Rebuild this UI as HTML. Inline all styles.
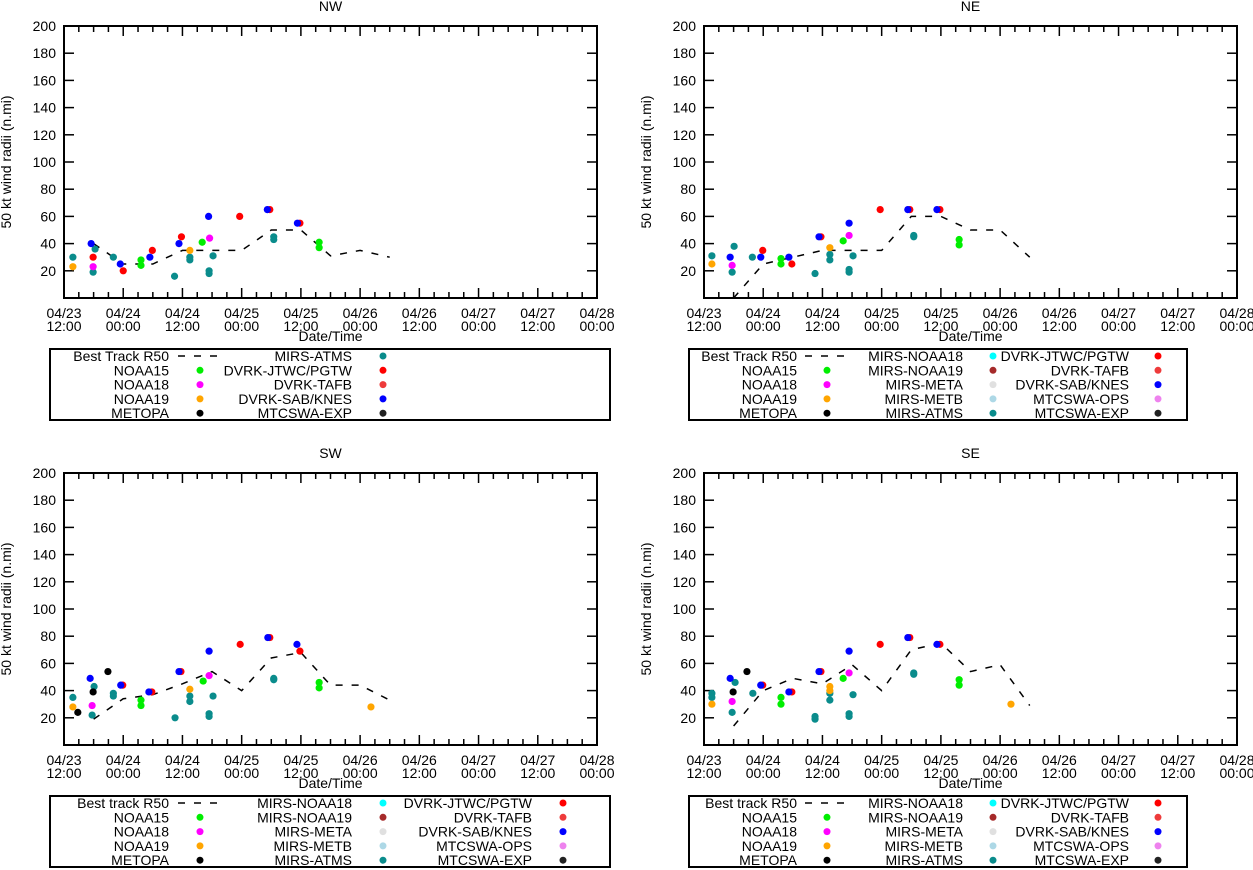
<!DOCTYPE html>
<html><head><meta charset="utf-8"><style>
body{margin:0;background:#fff;}
svg{display:block;font-family:"Liberation Sans",Arial,sans-serif;}
text{font-size:14px;fill:#000;}
</style></head><body>
<svg id="chart" width="1253" height="870" viewBox="0 0 1253 870"></svg>
<script>
// ---- data (hours since 04/23 12:00, kt radius in n.mi) ----
const bestTimes = [6,12,18,24,30,36,42,48,54,60,66];
const bestNW = [40,25,25,35,35,35,50,50,31,35,30];
const bestNE = [0,25,30,35,35,35,60,60,50,50,30];
const bestSW = [19,34,37,45,54,40,64,68,44,44,33];
const bestSE = [14,40,49,45,59,40,70,75,54,59,29];
const yTicks = [20,40,60,80,100,120,140,160,180,200];
const xTickHours = [0,12,24,36,48,60,72,84,96,108];
const xTickDates = ["04/23","04/24","04/24","04/25","04/25","04/26","04/26","04/27","04/27","04/28"];
const xTickTimes = ["12:00","00:00","12:00","00:00","12:00","00:00","12:00","00:00","12:00","00:00"];

const NW_ATMS=[[1.8,30],[5.9,19],[6.3,36],[10,30],[22.4,16],[25.5,28],[25.5,30],[29.4,18],[29.4,20],[30.2,31],[42.5,43],[42.5,45]];
const NW_N19=[[1.8,23],[25.5,35]];
const NW_N18=[[5.9,23],[29.5,44]];
const NW_N15=[[15.6,28],[15.6,24],[28,41],[51.7,41],[51.7,37]];
const NW_JTWC=[[5.9,30],[12,20],[17.9,35],[23.8,45],[35.6,60],[41.7,65],[47.8,55]];
const NW_SAB=[[5.5,40],[11.4,25],[17.4,30],[23.3,40],[29.3,60],[41.2,65],[47.3,55]];

const NE_ATMS=[[1.6,31],[5.7,19],[6.1,38],[9.8,30],[22.5,18],[25.5,32],[25.5,28],[29.4,21],[29.4,19],[30.2,31],[42.5,46],[42.5,45]];
const NE_N19=[[1.6,25],[25.5,37]];
const NE_N18=[[5.7,24],[29.4,46]];
const NE_N15=[[15.6,29],[15.6,25],[28.2,42],[51.7,43],[51.7,39]];
const NE_JTWC=[[11.9,35],[17.8,25],[23.7,45],[35.7,65],[41.7,65],[47.8,65]];
const NE_SAB=[[5.3,30],[11.5,30],[17.2,30],[23.3,45],[29.4,55],[41.3,65],[47.2,65]];

const SW_ATMS=[[1.8,35],[6.1,43],[5.7,22],[10,38],[10,36],[22.5,20],[25.5,36],[25.5,32],[29.4,23],[29.4,21],[30.2,36],[42.5,49],[42.5,48]];
const SW_N19=[[1.8,28],[25.5,41],[62.2,28]];
const SW_MET=[[2.8,24],[5.9,39],[8.9,54]];
const SW_N18=[[5.7,29],[29.4,51]];
const SW_N15=[[15.6,33],[15.6,29],[28.2,47],[51.7,46],[51.7,42]];
const SW_JTWC=[[11.9,44],[17.8,39],[23.7,54],[35.7,74],[41.7,79],[47.8,69]];
const SW_SAB=[[5.3,49],[11.5,44],[17.2,39],[23.3,54],[29.4,69],[41.3,79],[47.2,74]];

const SE_ATMS=[[1.6,38],[1.6,35],[5.7,24],[6.3,46],[9.9,38],[22.5,21],[22.5,19],[25.5,38],[25.5,33],[29.4,23],[29.4,21],[30.2,37],[42.5,52],[42.5,53]];
const SE_N19=[[1.6,30],[25.5,43],[25.5,40],[62.2,30]];
const SE_MET=[[5.9,39],[8.7,54]];
const SE_N18=[[5.7,32],[29.4,53]];
const SE_N15=[[15.6,35],[15.6,30],[28.2,49],[51.7,48],[51.7,44]];
const SE_JTWC=[[11.9,44],[17.8,39],[23.7,54],[35.7,74],[41.7,79],[47.8,74]];
const SE_SAB=[[5.3,49],[11.5,44],[17.2,39],[23.3,54],[29.4,69],[41.3,79],[47.2,74]];

const C={atms:"#0a8c8c",n19:"#ffa500",n18:"#ff00ff",n15:"#00ee00",met:"#000",jtwc:"#ff0000",tafb:"#ee3b3b",sab:"#0000ff",exp:"#222",mn18:"#00ffff",mn19:"#a52a2a",meta:"#e0e0e0",metb:"#add8e6",ops:"#ee82ee"};

const NS="http://www.w3.org/2000/svg";
const svg=document.getElementById('chart');
function mk(tag,attrs,parent,txt){const e=document.createElementNS(NS,tag);for(const k in attrs)e.setAttribute(k,attrs[k]);if(txt!==undefined)e.textContent=txt;(parent||svg).appendChild(e);return e;}

function panel(title,L,T,R,B,best,series,legend,key){
  const g=mk('g',{});
  
  
  const xs=h=>L+(R-L)*h/108, ys=v=>B-(B-T)*v/200;
  const t=mk('text',{x:(L+R)/2,y:T-15,'text-anchor':'middle'},g,title);
  
  
  const yl=mk('text',{transform:`translate(${L-53},${(T+B)/2}) rotate(-90)`,'text-anchor':'middle'},g,'50 kt wind radii (n.mi)');
  
  
  yTicks.forEach(v=>{const y=ys(v);
    mk('line',{x1:L,x2:L+10,y1:y,y2:y,stroke:'#000','stroke-width':1.5},g);
    mk('line',{x1:R,x2:R-10,y1:y,y2:y,stroke:'#000','stroke-width':1.5},g);
    const tl=mk('text',{x:L-8,y:y+5,'text-anchor':'end'},g,String(v));
    
    
  });
  for(let h=0;h<=108;h+=3){const x=xs(h),len=(h%12===0)?10:6;
    mk('line',{x1:x,x2:x,y1:B,y2:B-len,stroke:'#000','stroke-width':1.5},g);
    mk('line',{x1:x,x2:x,y1:T,y2:T+len,stroke:'#000','stroke-width':1.5},g);}
  xTickHours.forEach((h,i)=>{const x=xs(h);
    const a=mk('text',{x:x,y:B+20,'text-anchor':'middle'},g,xTickDates[i]);
    
    
    const b=mk('text',{x:x,y:B+33,'text-anchor':'middle'},g,xTickTimes[i]);
    
    
  });
  const xt=mk('text',{x:(L+R)/2,y:B+43,'text-anchor':'middle'},g,'Date/Time');
  
  
  const cid='clip-'+key;
  const cp=mk('clipPath',{id:cid},g);mk('rect',{x:L,y:T,width:R-L,height:B-T},cp);
  const pts=bestTimes.map((h,i)=>xs(h)+','+ys(best[i])).join(' ');
  const bl=mk('polyline',{points:pts,fill:'none',stroke:'#000','stroke-width':1.5,'stroke-dasharray':'7,9','clip-path':`url(#${cid})`},g);
  
  
  series.forEach(([arr,col,nm])=>{arr.forEach(([h,v])=>{
    const c=mk('circle',{cx:xs(h),cy:ys(v),r:3.6,fill:col},g);
    
    
  });});
  mk('rect',{x:L,y:T,width:R-L,height:B-T,fill:'none',stroke:'#000','stroke-width':2},g);
  const lg=mk('g',{},g);
  
  
  mk('rect',{x:legend.x,y:legend.y,width:legend.w,height:71,fill:'none',stroke:'#000','stroke-width':2},lg);
  legend.cols.forEach(col=>{col.items.forEach((it,r)=>{
    const y=legend.y+7+r*14.3;
    const lt=mk('text',{x:col.tx,y:y+5,'text-anchor':'end'},lg,it[0]);
    
    
    if(it[1]==='dash') mk('line',{x1:col.mx-22,x2:col.mx+17,y1:y,y2:y,stroke:'#000','stroke-width':1.5,'stroke-dasharray':'7,9'},lg);
    else mk('circle',{cx:col.mx,cy:y,r:3.5,fill:it[1]},lg);
  });});
}
const col1=[["Best Track R50","dash"],["NOAA15",C.n15],["NOAA18",C.n18],["NOAA19",C.n19],["METOPA",C.met]];
const col1b=[["Best track R50","dash"],["NOAA15",C.n15],["NOAA18",C.n18],["NOAA19",C.n19],["METOPA",C.met]];
const colMirs=[["MIRS-NOAA18",C.mn18],["MIRS-NOAA19",C.mn19],["MIRS-META",C.meta],["MIRS-METB",C.metb],["MIRS-ATMS",C.atms]];
const colDvrk=[["DVRK-JTWC/PGTW",C.jtwc],["DVRK-TAFB",C.tafb],["DVRK-SAB/KNES",C.sab],["MTCSWA-OPS",C.ops],["MTCSWA-EXP",C.exp]];
const colNW2=[["MIRS-ATMS",C.atms],["DVRK-JTWC/PGTW",C.jtwc],["DVRK-TAFB",C.tafb],["DVRK-SAB/KNES",C.sab],["MTCSWA-EXP",C.exp]];

panel('NW',64,26,597,298,bestNW,[[NW_ATMS,C.atms,'mirs-atms'],[NW_N19,C.n19,'noaa19'],[NW_N18,C.n18,'noaa18'],[NW_N15,C.n15,'noaa15'],[NW_JTWC,C.jtwc,'dvrk-jtwc'],[NW_SAB,C.sab,'dvrk-sab']],
  {x:50,y:349,w:560,cols:[{tx:169,mx:200,items:col1},{tx:352,mx:383,items:colNW2}]},'nw');
panel('NE',704,26,1237,298,bestNE,[[NE_ATMS,C.atms,'mirs-atms'],[NE_N19,C.n19,'noaa19'],[NE_N18,C.n18,'noaa18'],[NE_N15,C.n15,'noaa15'],[NE_JTWC,C.jtwc,'dvrk-jtwc'],[NE_SAB,C.sab,'dvrk-sab']],
  {x:689,y:349,w:498,cols:[{tx:797,mx:827,items:col1},{tx:963,mx:993,items:colMirs},{tx:1129,mx:1158,items:colDvrk}]},'ne');
panel('SW',64,473,597,745,bestSW,[[SW_ATMS,C.atms,'mirs-atms'],[SW_N19,C.n19,'noaa19'],[SW_MET,C.met,'metopa'],[SW_N18,C.n18,'noaa18'],[SW_N15,C.n15,'noaa15'],[SW_JTWC,C.jtwc,'dvrk-jtwc'],[SW_SAB,C.sab,'dvrk-sab']],
  {x:50,y:796,w:560,cols:[{tx:169,mx:200,items:col1b},{tx:352,mx:383,items:colMirs},{tx:532,mx:563,items:colDvrk}]},'sw');
panel('SE',704,473,1237,745,bestSE,[[SE_ATMS,C.atms,'mirs-atms'],[SE_N19,C.n19,'noaa19'],[SE_MET,C.met,'metopa'],[SE_N18,C.n18,'noaa18'],[SE_N15,C.n15,'noaa15'],[SE_JTWC,C.jtwc,'dvrk-jtwc'],[SE_SAB,C.sab,'dvrk-sab']],
  {x:689,y:796,w:498,cols:[{tx:797,mx:827,items:col1b},{tx:963,mx:993,items:colMirs},{tx:1129,mx:1158,items:colDvrk}]},'se');
</script>
</body></html>
